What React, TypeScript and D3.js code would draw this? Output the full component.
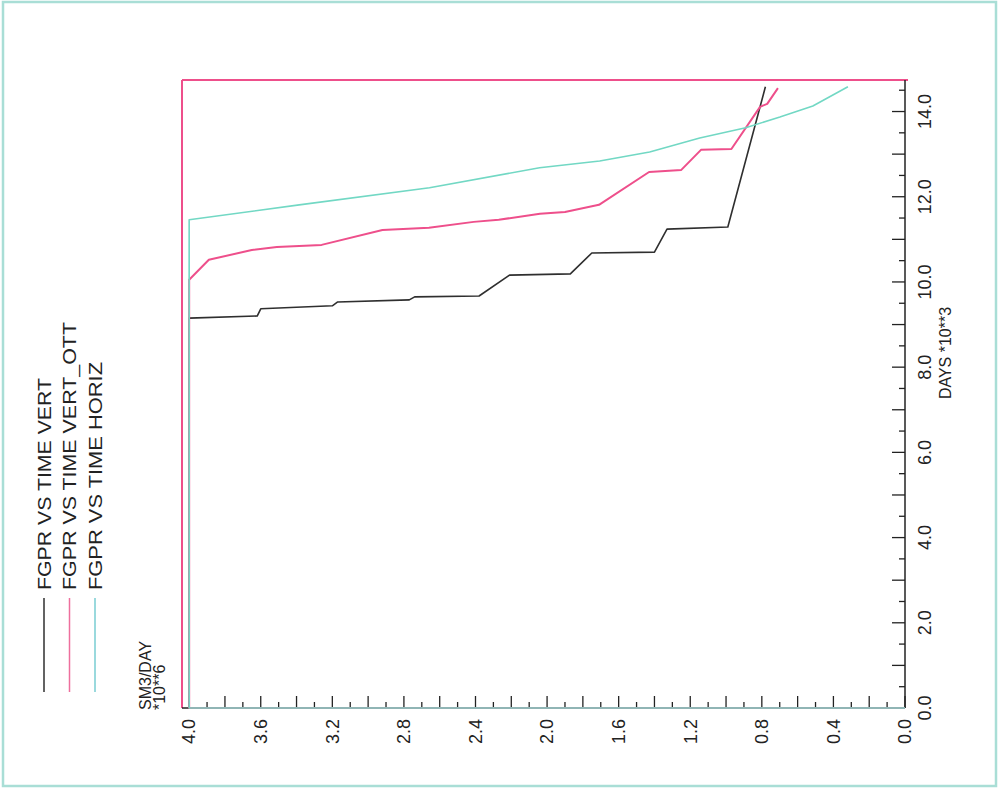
import React from 'react';
import * as d3 from 'd3';

// Series: gas production rate (SM3/DAY x10^6) against time (DAYS x10^3)
const seriesNames = ['FGPR VS TIME VERT', 'FGPR VS TIME VERT_OTT', 'FGPR VS TIME HORIZ'];
const seriesColors = ['#2f2f2f', '#ee4f8b', '#72d8c4'];
const legendColors = ['#2f2f2f', '#ee6f9d', '#79cdd2'];

const vertDays = [0, 0, 9.15, 9.2, 9.37, 9.44, 9.53, 9.58, 9.65, 9.67, 10.16, 10.19, 10.68, 10.7, 11.24, 11.29, 14.58];
const vertRate = [0, 4.0, 4.0, 3.62, 3.6, 3.2, 3.17, 2.77, 2.74, 2.38, 2.21, 1.87, 1.75, 1.4, 1.33, 0.99, 0.78];

const ottDays = [0, 0, 10.05, 10.52, 10.75, 10.82, 10.87, 11.22, 11.27, 11.41, 11.46, 11.6, 11.64, 11.81, 12.58, 12.63, 13.1, 13.12, 14.11, 14.18, 14.55];
const ottRate = [0, 4.0, 4.0, 3.89, 3.65, 3.51, 3.26, 2.92, 2.66, 2.41, 2.27, 2.04, 1.9, 1.71, 1.43, 1.25, 1.14, 0.97, 0.81, 0.77, 0.71];

const horizDays = [0, 0, 11.46, 11.81, 12.21, 12.68, 12.84, 13.05, 13.38, 13.62, 13.87, 14.13, 14.58];
const horizRate = [0, 4.0, 4.0, 3.385, 2.657, 2.042, 1.706, 1.427, 1.147, 0.89, 0.699, 0.515, 0.319];

const dayTickLabels = ['0.0', '2.0', '4.0', '6.0', '8.0', '10.0', '12.0', '14.0'];
const rateTickLabels = ['0.0', '0.4', '0.8', '1.2', '1.6', '2.0', '2.4', '2.8', '3.2', '3.6', '4.0'];

const dayMax = 14.74;
const rateMax = 4.04;

const W = 1001;
const H = 790;
// plot drawn upright, then turned a quarter counter-clockwise
const plotW = 628;
const plotH = 723;
const font = "'Liberation Sans Narrow','Arial Narrow',sans-serif";

export default function App() {
  const x = d3.scaleLinear().domain([0, dayMax]).range([0, plotW]);
  const y = d3.scaleLinear().domain([0, rateMax]).range([plotH, 0]);

  const line = d3
    .line<[number, number]>()
    .x((d) => x(d[0]))
    .y((d) => y(d[1]));

  const series = [
    d3.zip(vertDays, vertRate) as [number, number][],
    d3.zip(ottDays, ottRate) as [number, number][],
    d3.zip(horizDays, horizRate) as [number, number][],
  ];

  const dayMinor = d3.range(0, dayMax + 1e-9, 0.5);
  const rateMinor = d3.range(0, 4.0 + 1e-9, 0.1);

  return (
    <svg
      width={W}
      height={H}
      style={{ position: 'absolute', left: 0, top: 0, background: '#fff' }}
    >
      <rect x={3} y={2} width={993} height={784} fill="none" stroke="#a9ded6" strokeWidth={2.5} />
      <g transform="translate(182,708) rotate(-90)" fontFamily={font}>
        {/* frame edges */}
        <line x1={0} y1={0} x2={plotW} y2={0} stroke="#ee4f8b" strokeWidth={2} />
        <line x1={plotW} y1={0} x2={plotW} y2={plotH + 3} stroke="#ee4f8b" strokeWidth={2} />
        {/* axes */}
        <line x1={0} y1={plotH} x2={plotW} y2={plotH} stroke="#222" strokeWidth={1.5} />
        <line x1={0} y1={0} x2={0} y2={plotH} stroke="#222" strokeWidth={1.5} />
        {dayMinor.map((d, i) => {
          const len = i % 2 === 0 ? 13 : 6;
          return (
            <line key={'dt' + i} x1={x(d)} x2={x(d)} y1={plotH} y2={plotH - len} stroke="#222" strokeWidth={1.3} />
          );
        })}
        {rateMinor.map((r, i) => {
          const len = i % 2 === 0 ? 12 : 6;
          return <line key={'rt' + i} x1={0} x2={len} y1={y(r)} y2={y(r)} stroke="#222" strokeWidth={1.3} />;
        })}
        {dayTickLabels.map((t) => (
          <text key={'dl' + t} x={x(+t)} y={plotH + 26} textAnchor="middle" fontSize={18} fill="#222">
            {t}
          </text>
        ))}
        {rateTickLabels.map((t) => (
          <text key={'rl' + t} x={-11} y={y(+t)} dy="0.35em" textAnchor="end" fontSize={18} fill="#222">
            {t}
          </text>
        ))}
        <text x={355} y={plotH + 46} textAnchor="middle" fontSize={16} fill="#222">
          DAYS *10**3
        </text>
        <text x={-2} y={-31} fontSize={16} fill="#222">
          SM3/DAY
        </text>
        <text x={-2} y={-17} fontSize={16} fill="#222">
          *10**6
        </text>
        {/* data */}
        {series.map((s, i) => (
          <path
            key={'s' + i}
            d={line(s) || ''}
            fill="none"
            stroke={seriesColors[i]}
            strokeWidth={i === 1 ? 2 : 1.6}
            strokeLinejoin="round"
          />
        ))}
        {/* legend */}
        {seriesNames.map((n, i) => {
          const ly = -138 + i * 25.5;
          const lens = [212, 268, 228];
          return (
            <g key={'lg' + i}>
              <line x1={16} x2={110} y1={ly} y2={ly} stroke={legendColors[i]} strokeWidth={1.5} />
              <text
                x={118}
                y={ly}
                dy="0.36em"
                fontSize={19}
                fill="#222"
                textLength={lens[i]}
                lengthAdjust="spacingAndGlyphs"
              >
                {n}
              </text>
            </g>
          );
        })}
      </g>
    </svg>
  );
}
